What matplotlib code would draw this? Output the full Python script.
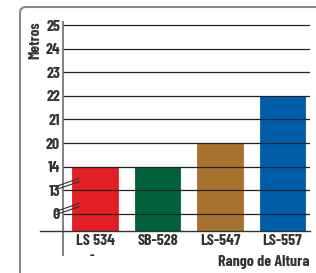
import matplotlib.pyplot as plt
from matplotlib.patches import FancyBboxPatch
from matplotlib.lines import Line2D

# datos
modelos = ["LS 534", "SB-528", "LS-547", "LS-557"]
alturas = [14, 14, 20, 22]
marcas_y = [0, 13, 14, 20, 21, 22, 23, 24, 25]
colores = ["#E31E24", "#00613A", "#A8732E", "#005DA8"]

plt.rcParams['font.family'] = ['Barlow Condensed', 'DejaVu Sans']

fig = plt.figure(figsize=(3.16, 2.73), dpi=100)
ax = fig.add_axes([63/316, 1-231/273, 247/316, 209/273])

# escala con cortes: cada marca ocupa el mismo espacio
pos = [marcas_y.index(a) for a in alturas]
x = range(len(modelos))
ax.bar(x, [p + 0.73 for p in pos], bottom=-0.73, width=0.73, color=colores,
       edgecolor=colores, linewidth=0.6, zorder=1)

for i in range(len(marcas_y)):
    ax.axhline(i, color="#222222", lw=0.9, zorder=2)

ax.set_ylim(-0.73, 8.13)
ax.set_xlim(-0.512, 3.44)
ax.set_yticks(range(len(marcas_y)))
ax.set_yticklabels([str(m) for m in marcas_y], fontweight="bold", fontsize=11.5,
                   color="#333333")
ax.set_xticks(list(x))
ax.set_xticklabels(modelos, fontweight="bold", fontsize=11.5, color="#333333")
ax.tick_params(length=0, pad=2)
ax.tick_params(axis="x", pad=2)
for s in ["top", "right", "bottom", "left"]:
    ax.spines[s].set_visible(False)

# ejes
fig.add_artist(Line2D([63/316, 63/316], [1-255/273, 1-22/273], color="#777777", lw=1.3))
fig.add_artist(Line2D([40/316, 310/316], [1-231/273, 1-231/273], color="#333333", lw=1.0))

# marcas de corte
for yc in [184, 209]:
    for d in [-1.6, 1.6]:
        fig.add_artist(Line2D([56/316, 79/316], [1-(yc+4+d)/273, 1-(yc-4+d)/273],
                              color="#333333", lw=0.8))

# recuadro
fig.add_artist(FancyBboxPatch((20/316, -0.1), 1.2, 1-7/273+0.1,
                              boxstyle="round,pad=0,rounding_size=0.02",
                              transform=fig.transFigure, fill=False,
                              edgecolor="#888888", lw=1.5))

fig.text(35/316, 1-40/273, "Metros", rotation=90, ha="center", va="center",
         fontweight="bold", fontsize=11, color="#333333")
fig.text(310/316, 1-262/273, "Rango de Altura", ha="right", va="center",
         fontweight="bold", fontsize=11.5, color="#333333")
fig.text(92/316, 1-255/273, "-", ha="center", va="center", fontweight="bold",
         fontsize=10, color="#333333")

fig.savefig("out.png", dpi=100)
